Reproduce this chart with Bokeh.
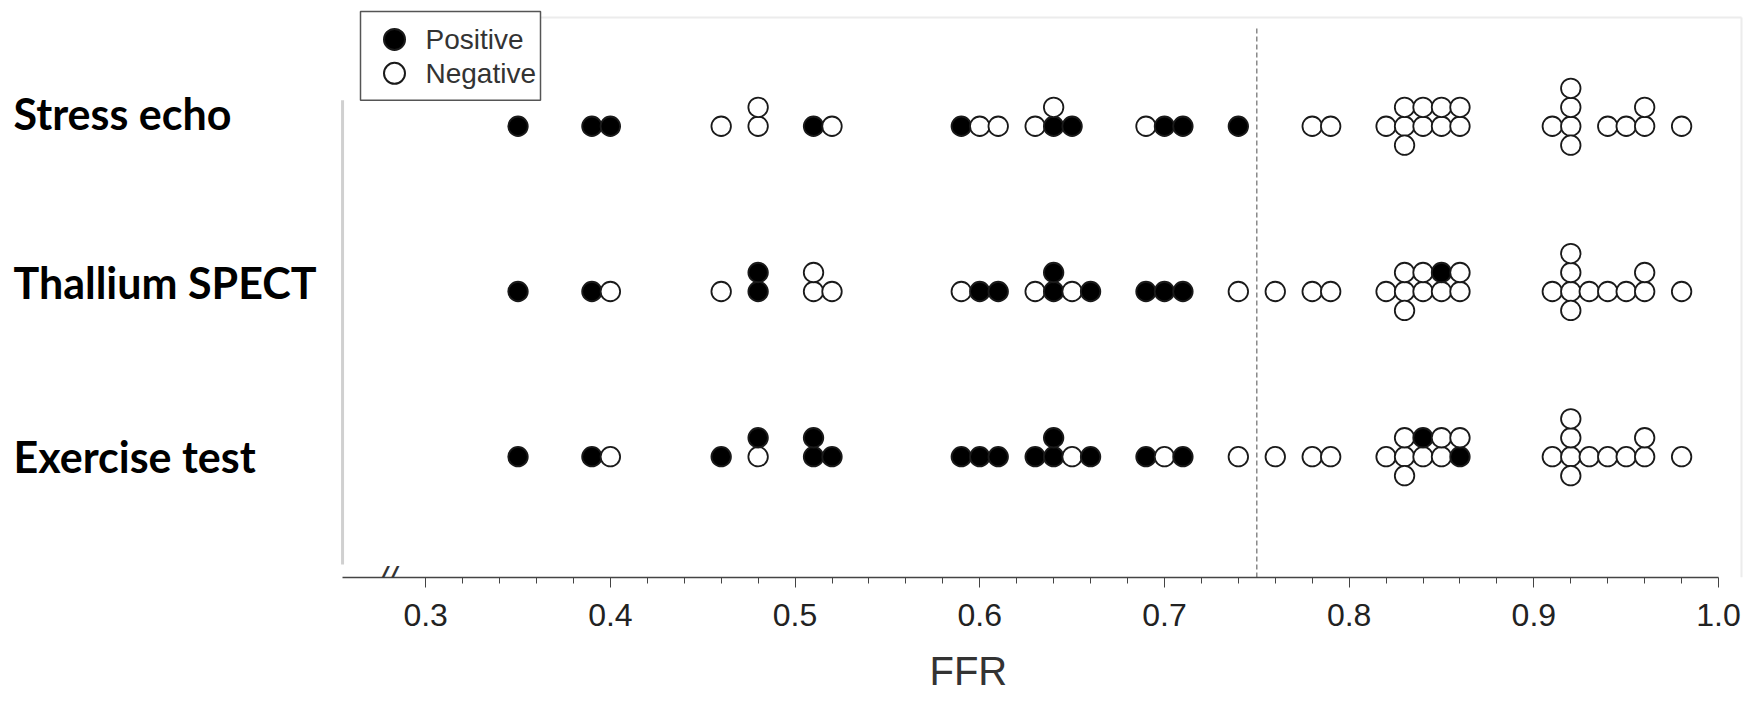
import numpy as np
from bokeh.plotting import figure
from bokeh.models import Range1d, FixedTicker, Label, ColumnDataSource, PrintfTickFormatter, Title
from bokeh.core.properties import value
from bokeh.embed import file_html
from bokeh.resources import INLINE

# ---------------- data ----------------
ROW_LABELS = ["Stress echo", "Thallium SPECT", "Exercise test"]
ROW_Y = [3, 2, 1]

stress_ffr = [0.35, 0.39, 0.40, 0.46, 0.48, 0.48, 0.51, 0.52, 0.59, 0.60, 0.61,
              0.63, 0.64, 0.64, 0.65, 0.69, 0.70, 0.71, 0.74, 0.78, 0.79, 0.82,
              0.83, 0.83, 0.83, 0.84, 0.84, 0.85, 0.85, 0.86, 0.86, 0.91,
              0.92, 0.92, 0.92, 0.92, 0.94, 0.95, 0.96, 0.96, 0.98]
stress_result = list("PPPNNNPNPNNNPNPNPPP" + "N" * 22)

thallium_ffr = [0.35, 0.39, 0.40, 0.46, 0.48, 0.48, 0.51, 0.51, 0.52, 0.59, 0.60,
                0.61, 0.63, 0.64, 0.64, 0.65, 0.66, 0.69, 0.70, 0.71, 0.74, 0.76,
                0.78, 0.79, 0.82, 0.83, 0.83, 0.83, 0.84, 0.84, 0.85, 0.85,
                0.86, 0.86, 0.91, 0.92, 0.92, 0.92, 0.92, 0.93, 0.94, 0.95,
                0.96, 0.96, 0.98]
thallium_result = list("PPNNPPNNNNPPNPPNPPPP" + "N" * 10 + "NP" + "N" * 13)

exercise_ffr = [0.35, 0.39, 0.40, 0.46, 0.48, 0.48, 0.51, 0.51, 0.52, 0.59, 0.60,
                0.61, 0.63, 0.64, 0.64, 0.65, 0.66, 0.69, 0.70, 0.71, 0.74, 0.76,
                0.78, 0.79, 0.82, 0.83, 0.83, 0.83, 0.84, 0.84, 0.85, 0.85,
                0.86, 0.86, 0.91, 0.92, 0.92, 0.92, 0.92, 0.93, 0.94, 0.95,
                0.96, 0.96, 0.98]
exercise_result = list("PPNPNPPPPPPPPPPNPPNP" + "N" * 8 + "NP" + "NN" + "PN" + "N" * 11)

ROW_FFR = [stress_ffr, thallium_ffr, exercise_ffr]
ROW_RESULT = [stress_result, thallium_result, exercise_result]

FFR_CUTOFF = 0.75
MAJOR_TICKS = [0.3, 0.4, 0.5, 0.6, 0.7, 0.8, 0.9, 1.0]
MINOR_TICKS = [round(t, 2) for t in np.arange(0.32, 1.0, 0.02)]
LEGEND_LABELS = ["Positive", "Negative"]

# ---------------- geometry ----------------
W, H = 1750, 711
FRAME_H = 578
X0, X1 = 0.0698, 1.0173
Y0, Y1 = 0.269, 3.761
AXIS_START = 0.255


def sx(px):
    return X0 + px / W * (X1 - X0)


def sy(py):
    return Y1 - py / FRAME_H * (Y1 - Y0)


STEP = 19 * (Y1 - Y0) / FRAME_H  # vertical stacking step (one dot)


def stack_levels(vals):
    seen = {}
    out = []
    for v in vals:
        k = seen.get(round(v, 3), 0)
        seen[round(v, 3)] = k + 1
        if k == 0:
            out.append(0)
        else:
            out.append(((k + 1) // 2) * (1 if k % 2 == 1 else -1))
    return out


xs, ys, fills = [], [], []
for ry, vals, res in zip(ROW_Y, ROW_FFR, ROW_RESULT):
    for v, lv, r in zip(vals, stack_levels(vals), res):
        xs.append(v)
        ys.append(ry + lv * STEP)
        fills.append("#000000" if r == "P" else "#ffffff")
src = ColumnDataSource(dict(x=xs, y=ys, fill=fills))

p = figure(width=W, height=H, x_range=Range1d(X0, X1), y_range=Range1d(Y0, Y1),
           output_backend="svg", toolbar_location=None, y_axis_location=None,
           min_border_left=0, min_border_right=0, min_border_top=0,
           min_border_bottom=H - FRAME_H)
p.outline_line_color = None
p.grid.visible = False
p.border_fill_color = "white"
p.background_fill_color = "white"

xa = p.xaxis[0]
xa.ticker = FixedTicker(ticks=MAJOR_TICKS, minor_ticks=MINOR_TICKS)
xa.formatter = PrintfTickFormatter(format="%.1f")
xa.bounds = (AXIS_START, 1.0)
xa.axis_line_color = "#444444"
xa.axis_line_width = 1.5
xa.major_tick_line_color = "#444444"
xa.minor_tick_line_color = "#444444"
xa.major_tick_out = 10
xa.major_tick_in = 0
xa.minor_tick_out = 6
xa.minor_tick_in = 0
xa.major_label_text_font = "Liberation Sans"
xa.major_label_text_font_size = "32px"
xa.major_label_text_color = "#222222"
xa.major_label_standoff = 16

# axis title (as a below-title so it can sit off-centre)
p.add_layout(Title(text="FFR", align="left", offset=929, standoff=37,
                   text_font="Liberation Sans", text_font_size="40px",
                   text_font_style="normal", text_color="#333333"), "below")

# faint outer frame of the original figure
p.segment(x0=[sx(540), sx(1741)], x1=[sx(1741), sx(1741)],
          y0=[sy(17), sy(17)], y1=[sy(17), Y0],
          line_color="#ececec", line_width=2)

# left boundary line
p.segment(x0=[AXIS_START], x1=[AXIS_START], y0=[sy(565)], y1=[sy(100)],
          line_color="#d0d0d0", line_width=3)

# cutoff dashed line
p.segment(x0=[FFR_CUTOFF], x1=[FFR_CUTOFF], y0=[Y0], y1=[sy(26)],
          line_color="#777777", line_width=1.3, line_dash="5 3")

# dots
p.scatter("x", "y", source=src, size=19.5, fill_color="fill",
          line_color="#1a1a1a", line_width=1.8)

# row labels
p.text(x=[sx(13)] * 3, y=ROW_Y, text=ROW_LABELS, text_font=value("Lato"),
       text_font_style="bold", text_font_size="43px", text_color="#000000",
       text_baseline="middle", text_align="left", y_offset=[-13, -9, 0])

# legend (manual)
p.quad(left=[sx(360)], right=[sx(540)], top=[sy(11)], bottom=[sy(100)],
       fill_color="white", line_color="#555555", line_width=1.5)
p.scatter(x=[sx(394)] * 2, y=[sy(39), sy(73)], size=21,
          fill_color=["#000000", "#ffffff"], line_color="#1a1a1a", line_width=2)
p.text(x=[sx(425)] * 2, y=[sy(39), sy(73)], text=LEGEND_LABELS,
       text_font=value("Liberation Sans"), text_font_size="28px",
       text_color="#333333", text_baseline="middle", text_align="left")

# axis break marks
p.add_layout(Label(x=0.279, y=Y0, text="//", text_font="Liberation Sans",
                   text_font_size="34px", text_font_style="italic",
                   text_color="#333333", text_align="center",
                   text_baseline="alphabetic"))

open("out.html", "w").write(file_html(p, INLINE))
